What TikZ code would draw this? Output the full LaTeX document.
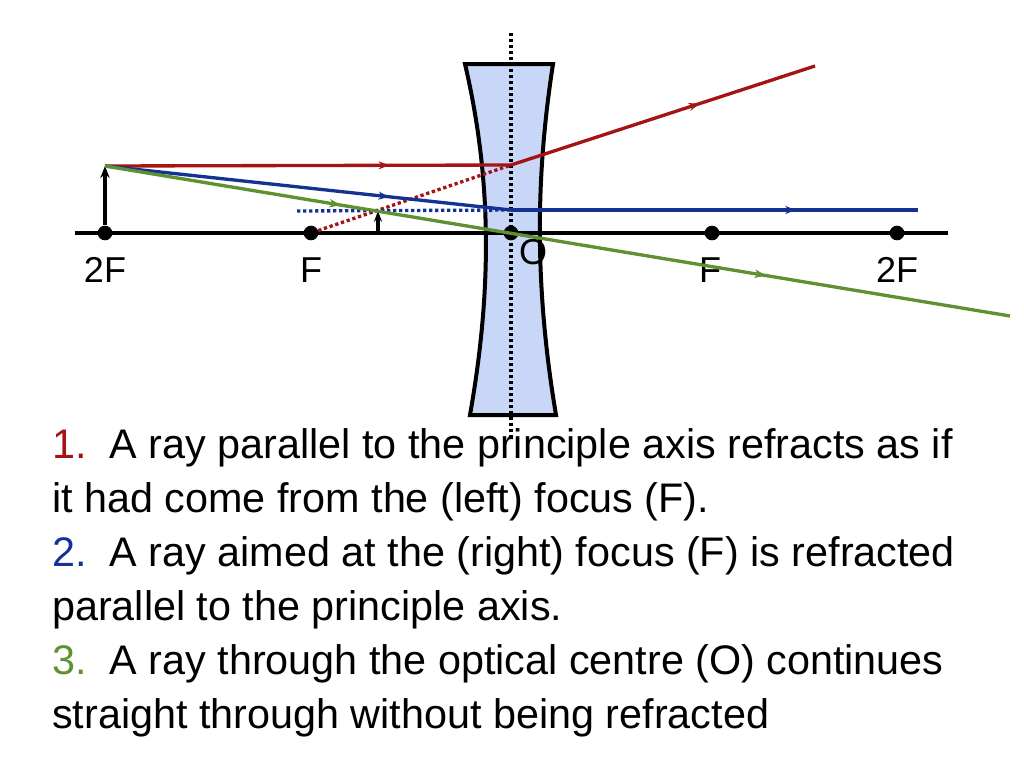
\documentclass[tikz,border=0pt]{standalone}
\usepackage{fontspec}
\setmainfont{Liberation Sans}
\usetikzlibrary{decorations.markings,arrows.meta}
\definecolor{rred}{RGB}{165,20,20}
\definecolor{rblue}{RGB}{20,50,145}
\definecolor{rgreen}{RGB}{95,145,50}
\definecolor{lensblue}{RGB}{200,215,248}
\begin{document}
\begin{tikzpicture}[x=0.75pt,y=-0.75pt,
  ray/.style={line width=2.5pt},
  midarr/.style={postaction={decorate},decoration={markings,mark=at position #1 with {\arrow{Stealth[length=8pt,width=6pt]}}}},
  dotl/.style={line width=2.5pt,dotted},
  pt/.style={circle,fill=black,inner sep=0pt,minimum size=11pt},
  lbl/.style={font=\fontsize{27}{30}\selectfont},
  txt/.style={font=\fontsize{31}{40.5}\selectfont,anchor=north west,align=left,inner sep=0pt}]
\useasboundingbox (0,0) rectangle (1024,768);
% lens
\draw[fill=lensblue,line width=3pt] (465,64) -- (553,64) .. controls (535,180) and (535,290) .. (556,415) -- (470,415) .. controls (492,290) and (492,180) .. (465,64) -- cycle;
\draw[dotl,line width=2.6pt] (511,33) -- (511,440);
% axis
\draw[line width=2.6pt] (75,233) -- (948,233);
\node[pt] (f2l) at (105,233) {};
\node[pt] (fl) at (311,233) {};
\node[pt] (o) at (511,233) {};
\node[pt] (fr) at (712,233) {};
\node[pt] (f2r) at (897,233) {};
\node[lbl] at (105,270) {2F};
\node[lbl] at (311,270) {F};
\node[lbl] at (533,252) {O};
\node[lbl] at (710,270) {F};
\node[lbl] at (897,270) {2F};
% object and image
\coordinate (top) at (105,166);
\draw[line width=2.6pt,-{Stealth[length=9pt,width=7pt]}] (f2l) -- (top);
\coordinate (ib) at (378,233);
\coordinate (it) at (378,211);
\draw[line width=2.6pt,-{Stealth[length=8pt,width=6pt]}] (ib) -- (it);
% red
\coordinate (rl) at (511,165);
\coordinate (rend) at (815,66);
\draw[ray,rred,midarr=0.7] (top) -- (rl);
\draw[ray,rred,midarr=0.62] (rl) -- (rend);
\draw[dotl,rred] (fl) -- (rl);
% blue
\coordinate (bl) at (511,210);
\coordinate (bend) at (918,210);
\coordinate (bd) at (297,211);
\draw[ray,rblue,midarr=0.7] (top) -- (bl);
\draw[ray,rblue,midarr=0.7] (bl) -- (bend);
\draw[dotl,rblue] (bd) -- (bl);
% green
\coordinate (gend) at (1010,316);
\draw[ray,rgreen,midarr=0.26,midarr=0.73] (top) -- (gend);
% text
\node[txt] (t) at (52,428) {\textcolor{rred}{1.}\ \ A ray parallel to the principle axis refracts as if\\
it had come from the (left) focus (F).\\
\textcolor{rblue}{2.}\ \ A ray aimed at the (right) focus (F) is refracted\\
parallel to the principle axis.\\
\textcolor{rgreen}{3.}\ \ A ray through the optical centre (O) continues\\
straight through without being refracted};
\end{tikzpicture}
\end{document}
